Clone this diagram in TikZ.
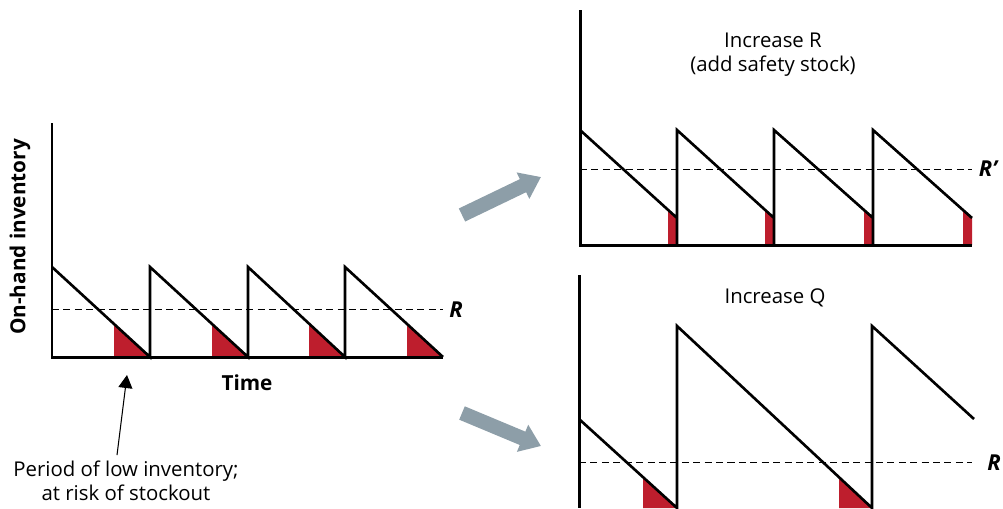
\documentclass[tikz,border=0pt]{standalone}
\usepackage{fontspec}
\setmainfont{Open Sans}
\usetikzlibrary{arrows.meta}
\definecolor{lowred}{HTML}{BE1E2D}
\definecolor{arrowgray}{HTML}{8D9EA8}
\tikzset{
  axis/.style={line width=1.7pt},
  saw/.style={line width=1.5pt, line join=miter},
  reorder/.style={line width=0.5pt, dash pattern=on 4pt off 2.5pt},
  risk/.style={fill=lowred},
  bigarrow/.style={arrowgray, line width=0.29cm, -{Triangle[length=0.4cm,width=0.56cm]}},
  lbl/.style={font=\fontsize{11.6}{13.5}\selectfont, align=center},
  rlbl/.style={font=\fontsize{12.5}{14}\selectfont\bfseries\itshape}
}
\begin{document}
\begin{tikzpicture}[x=0.02cm,y=-0.02cm]
  \useasboundingbox (0,0) rectangle (1003,508);
  % left chart
  \fill[risk] (114,324) -- (150,357) -- (114,357) -- cycle;
  \fill[risk] (212,324) -- (248,357) -- (212,357) -- cycle;
  \fill[risk] (309,324) -- (345,357) -- (309,357) -- cycle;
  \fill[risk] (407,324) -- (443,357) -- (407,357) -- cycle;
  \draw[reorder] (52,309) -- (443,309);
  \draw[axis] (52,123) -- (52,357) -- (443,357);
  \draw[saw] (52,267) -- (150,357) -- (150,267) -- (248,357) -- (248,267)
    -- (345,357) -- (345,267) -- (443,357);
  \node[rlbl] (rleft) at (456,310) {R};
  \node[lbl, font=\fontsize{11.8}{14}\selectfont\bfseries, rotate=90] (ylabel) at (20,237) {On-hand inventory};
  \node[lbl, font=\fontsize{11.8}{14}\selectfont\bfseries] (time) at (247,383) {Time};
  \node[lbl] (lowinv) at (126,481) {Period of low inventory;\\at risk of stockout};
  \coordinate (tip) at (127,375);
  \draw[line width=0.6pt, -{Triangle[length=0.26cm,width=0.28cm]}] ([xshift=-0.18cm]lowinv.north) -- (tip);
  % arrows to the two remedies
  \coordinate (up0) at (462,215);
  \coordinate (up1) at (541,177);
  \coordinate (dn0) at (462,413);
  \coordinate (dn1) at (541,446);
  \draw[bigarrow] (up0) -- (up1);
  \draw[bigarrow] (dn0) -- (dn1);
  % increase R
  \fill[risk] (668,210) -- (677,218) -- (677,245) -- (668,245) -- cycle;
  \fill[risk] (765,210) -- (774,218) -- (774,245) -- (765,245) -- cycle;
  \fill[risk] (864,210) -- (873,218) -- (873,245) -- (864,245) -- cycle;
  \fill[risk] (963,210) -- (972,218) -- (972,245) -- (963,245) -- cycle;
  \draw[reorder] (580,169) -- (972,169);
  \draw[axis] (580,10) -- (580,245) -- (972,245);
  \draw[saw] (580,130) -- (677,218) -- (677,245) -- (677,130) -- (774,218) -- (774,245)
    -- (774,130) -- (873,218) -- (873,245) -- (873,130) -- (972,218);
  \node[rlbl] (rtop) at (988,169) {R’};
  \node[lbl] (incR) at (773,55) {Increase R\\(add safety stock)};
  % increase Q
  \fill[risk] (643,477) -- (677,508) -- (643,508) -- cycle;
  \fill[risk] (839,477) -- (872,508) -- (839,508) -- cycle;
  \draw[reorder] (579,462) -- (972,462);
  \draw[axis] (579,275) -- (579,508);
  \draw[saw] (579,419) -- (677,508) -- (677,326) -- (872,508) -- (872,326) -- (974,419);
  \node[rlbl] (rbottom) at (994,463) {R};
  \node[lbl] (incQ) at (775,298) {Increase Q};
\end{tikzpicture}
\end{document}
